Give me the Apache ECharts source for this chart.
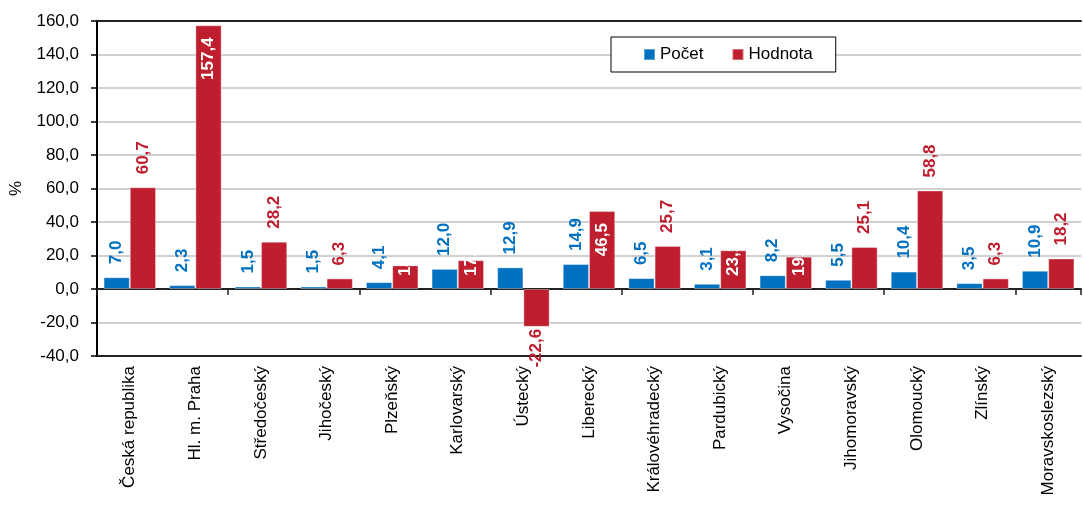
<!DOCTYPE html>
<html>
<head>
<meta charset="utf-8">
<script src="https://cdn.jsdelivr.net/npm/echarts@6/dist/echarts.min.js"></script>
<style>html,body{margin:0;padding:0;background:#fff}#c{width:1083px;height:505px}</style>
</head>
<body>
<div id="c"></div>
<script>
var categories = ['Česká republika','Hl. m. Praha','Středočeský','Jihočeský','Plzeňský','Karlovarský','Ústecký','Liberecký','Královéhradecký','Pardubický','Vysočina','Jihomoravský','Olomoucký','Zlínský','Moravskoslezský'];
var pocet = [7.0, 2.3, 1.5, 1.5, 4.1, 12.0, 12.9, 14.9, 6.5, 3.1, 8.2, 5.5, 10.4, 3.5, 10.9];
var hodnota = [60.7, 157.4, 28.2, 6.3, 14.1, 17.2, -22.6, 46.5, 25.7, 23.1, 19.3, 25.1, 58.8, 6.3, 18.2];
var seriesNames = ['Počet', 'Hodnota'];
var yTicks = {min: -40, max: 160, interval: 20};

// label style groups (styling only)
var insideTopIdx = [1, 7];
var insideBaseIdx = [4, 5, 9, 10];

var BLUE = '#0070C0', RED = '#BE1E2D';
var FONT = "'Liberation Sans', Arial, sans-serif";
function fmt(v){ return v.toFixed(1).replace('.', ','); }
var pxPerUnit = 336 / (yTicks.max - yTicks.min);

var chart = echarts.init(document.getElementById('c'));
var baseLabel = {show: true, rotate: 90, fontFamily: FONT, fontSize: 17, fontWeight: 'bold',
  formatter: function(p){ return fmt(p.value); }};

var blueData = pocet.map(function(v){
  return {value: v, label: Object.assign({}, baseLabel, {position: 'top', distance: 13, align: 'left', verticalAlign: 'middle', color: BLUE})};
});
var redData = hodnota.map(function(v, i){
  var lab;
  if (insideTopIdx.indexOf(i) >= 0) {
    lab = Object.assign({}, baseLabel, {position: 'insideTop', distance: 12, align: 'right', verticalAlign: 'middle', color: '#fff'});
  } else if (insideBaseIdx.indexOf(i) >= 0) {
    lab = Object.assign({}, baseLabel, {position: 'insideBottom', distance: 13, align: 'left', verticalAlign: 'middle', color: '#fff',
      width: Math.max(8, v * pxPerUnit - 13 + 12), overflow: 'truncate', ellipsis: ''});
  } else if (v < 0) {
    lab = Object.assign({}, baseLabel, {position: 'bottom', distance: 2, align: 'right', verticalAlign: 'middle', color: RED});
  } else {
    lab = Object.assign({}, baseLabel, {position: 'top', distance: 13, align: 'left', verticalAlign: 'middle', color: RED});
  }
  return {value: v, label: lab};
});

chart.setOption({
  animation: false,
  textStyle: {fontFamily: FONT},
  grid: {left: 93, right: 2, top: 21, bottom: 149, containLabel: false},
  legend: {
    data: seriesNames, left: 611, top: 37, padding: [9, 23, 9, 32], itemGap: 28,
    itemWidth: 11, itemHeight: 11, icon: 'rect',
    borderColor: '#000', borderWidth: 1, backgroundColor: '#fff',
    textStyle: {fontFamily: FONT, fontSize: 17, color: '#000'}
  },
  xAxis: [
    {type: 'category', data: categories, position: 'bottom',
     axisLine: {onZero: false, lineStyle: {color: '#222', width: 2}},
     axisTick: {show: false},
     axisLabel: {rotate: 90, margin: 10, fontSize: 17, color: '#000', fontFamily: FONT, interval: 0}},
    {type: 'category', data: categories, position: 'bottom',
     axisLine: {onZero: true, lineStyle: {color: '#222', width: 2}},
     axisTick: {show: true, length: 6, lineStyle: {color: '#222', width: 1.5}},
     axisLabel: {show: false}},
    {type: 'category', data: categories, position: 'top',
     axisLine: {onZero: false, lineStyle: {color: '#222', width: 2}},
     axisTick: {show: false}, axisLabel: {show: false}}
  ],
  yAxis: {
    type: 'value', min: yTicks.min, max: yTicks.max, interval: yTicks.interval,
    name: '%', nameLocation: 'middle', nameGap: 72, nameRotate: 90,
    nameTextStyle: {fontSize: 17, color: '#000', fontFamily: FONT},
    axisLine: {show: true, lineStyle: {color: '#000', width: 2}},
    axisTick: {show: true, length: 6, lineStyle: {color: '#000', width: 1.5}},
    axisLabel: {fontSize: 17, color: '#000', margin: 18, fontFamily: FONT, formatter: function(v){ return fmt(v); }},
    splitLine: {show: true, lineStyle: {color: '#c0c0c0', width: 1.5}}
  },
  series: [
    {name: seriesNames[0], type: 'bar', xAxisIndex: 0, data: blueData, barGap: '0%', barCategoryGap: '20%',
     itemStyle: {color: BLUE, borderColor: 'rgba(255,255,255,0.35)', borderWidth: 1}},
    {name: seriesNames[1], type: 'bar', xAxisIndex: 0, data: redData, barGap: '0%', barCategoryGap: '20%',
     itemStyle: {color: RED, borderColor: 'rgba(255,255,255,0.35)', borderWidth: 1}}
  ]
});
</script>
</body>
</html>
